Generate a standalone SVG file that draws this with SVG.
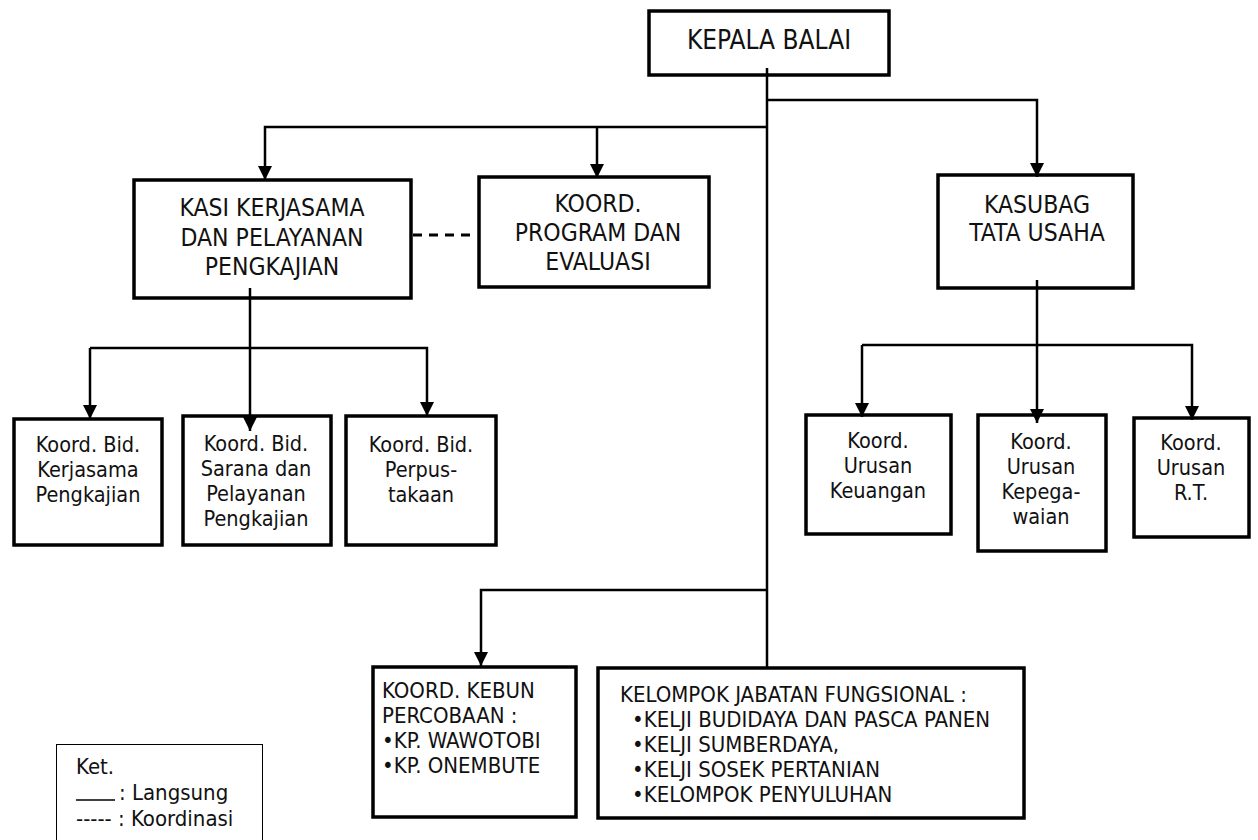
<svg xmlns="http://www.w3.org/2000/svg" width="1258" height="840" viewBox="0 0 1258 840">
<style>
.box{fill:#fff;stroke:#000;stroke-width:3.5}
.leg{fill:#fff;stroke:#000;stroke-width:1}
.t{font-family:"DejaVu Sans Condensed","DejaVu Sans",sans-serif;font-stretch:condensed;fill:#111}
.c{text-anchor:middle}
.l{font-size:24.5px}
.m{font-size:21.5px}
.b{font-size:22px}
.k{stroke:#000;stroke-width:2.5;fill:none}
.d{stroke:#000;stroke-width:3;fill:none;stroke-dasharray:9 7}
</style>
<defs>
<marker id="ah" markerUnits="userSpaceOnUse" markerWidth="16" markerHeight="16" refX="14" refY="7" orient="auto">
<path d="M0,0 L14,7 L0,14 z" fill="#000"/>
</marker>
</defs>
<g id="kepala">
<rect class="box" x="649" y="11" width="240" height="64"/>
<text class="t c" x="769" y="49" font-size="26">KEPALA BALAI</text>
</g>
<g id="kasi">
<rect class="box" x="134" y="180" width="277" height="118"/>
<text class="t c l" x="272" y="216">KASI KERJASAMA</text>
<text class="t c l" x="272" y="246">DAN PELAYANAN</text>
<text class="t c l" x="272" y="275">PENGKAJIAN</text>
</g>
<g id="program">
<rect class="box" x="479" y="177" width="230" height="110"/>
<text class="t c l" x="598" y="212">KOORD.</text>
<text class="t c l" x="598" y="241">PROGRAM DAN</text>
<text class="t c l" x="598" y="270">EVALUASI</text>
</g>
<g id="kasubag">
<rect class="box" x="938" y="175" width="195" height="113"/>
<text class="t c l" x="1037" y="213">KASUBAG</text>
<text class="t c l" x="1037" y="241">TATA USAHA</text>
</g>
<g id="bid-kerjasama">
<rect class="box" x="14" y="419" width="148" height="126"/>
<text class="t c m" x="88" y="452">Koord. Bid.</text>
<text class="t c m" x="88" y="477">Kerjasama</text>
<text class="t c m" x="88" y="502">Pengkajian</text>
</g>
<g id="bid-sarana">
<rect class="box" x="183" y="416" width="148" height="129"/>
<text class="t c m" x="256" y="451">Koord. Bid.</text>
<text class="t c m" x="256" y="476">Sarana dan</text>
<text class="t c m" x="256" y="501">Pelayanan</text>
<text class="t c m" x="256" y="526">Pengkajian</text>
</g>
<g id="bid-perpus">
<rect class="box" x="346" y="416" width="150" height="129"/>
<text class="t c m" x="421" y="452">Koord. Bid.</text>
<text class="t c m" x="421" y="477">Perpus-</text>
<text class="t c m" x="421" y="502">takaan</text>
</g>
<g id="keuangan">
<rect class="box" x="806" y="415" width="145" height="119"/>
<text class="t c m" x="878" y="448">Koord.</text>
<text class="t c m" x="878" y="473">Urusan</text>
<text class="t c m" x="878" y="498">Keuangan</text>
</g>
<g id="kepegawaian">
<rect class="box" x="978" y="415" width="128" height="136"/>
<text class="t c m" x="1041" y="449">Koord.</text>
<text class="t c m" x="1041" y="474">Urusan</text>
<text class="t c m" x="1041" y="499">Kepega-</text>
<text class="t c m" x="1041" y="524">waian</text>
</g>
<g id="rt">
<rect class="box" x="1134" y="418" width="115" height="119"/>
<text class="t c m" x="1191" y="450">Koord.</text>
<text class="t c m" x="1191" y="475">Urusan</text>
<text class="t c m" x="1191" y="500">R.T.</text>
</g>
<g id="kebun">
<rect class="box" x="373" y="667" width="203" height="150"/>
<text class="t b" x="382" y="698">KOORD. KEBUN</text>
<text class="t b" x="382" y="723">PERCOBAAN :</text>
<text class="t b" x="382" y="748">•KP. WAWOTOBI</text>
<text class="t b" x="382" y="773">•KP. ONEMBUTE</text>
</g>
<g id="fungsional">
<rect class="box" x="598" y="668" width="426" height="150"/>
<text class="t b" x="620" y="702">KELOMPOK JABATAN FUNGSIONAL :</text>
<text class="t b" x="632" y="727">•KELJI BUDIDAYA DAN PASCA PANEN</text>
<text class="t b" x="632" y="752">•KELJI SUMBERDAYA,</text>
<text class="t b" x="632" y="777">•KELJI SOSEK PERTANIAN</text>
<text class="t b" x="632" y="802">•KELOMPOK PENYULUHAN</text>
</g>
<g id="legend">
<rect class="leg" x="56.5" y="744.5" width="206" height="110"/>
<text class="t b" x="76" y="774">Ket.</text>
<line x1="76" y1="800" x2="115" y2="800" stroke="#000" stroke-width="1.5"/>
<text class="t b" x="119" y="800">: Langsung</text>
<text class="t b" x="76" y="826">----- : Koordinasi</text>
</g>
<g id="connectors">
<path class="k" d="M767,68 V667"/>
<path class="k" d="M767,100 H1037 V177" marker-end="url(#ah)"/>
<path class="k" d="M767,127 H265 V180" marker-end="url(#ah)"/>
<path class="k" d="M597,127 V178" marker-end="url(#ah)"/>
<path class="k" d="M250,288 V431" marker-end="url(#ah)"/>
<path class="k" d="M90,348 H427 V416" marker-end="url(#ah)"/>
<path class="k" d="M90,348 V419" marker-end="url(#ah)"/>
<path class="k" d="M1037,280 V423" marker-end="url(#ah)"/>
<path class="k" d="M862,345 H1192 V420" marker-end="url(#ah)"/>
<path class="k" d="M862,345 V417" marker-end="url(#ah)"/>
<path class="k" d="M767,590 H481 V666" marker-end="url(#ah)"/>
<path class="d" d="M413,235 H477"/>
</g>
</svg>
